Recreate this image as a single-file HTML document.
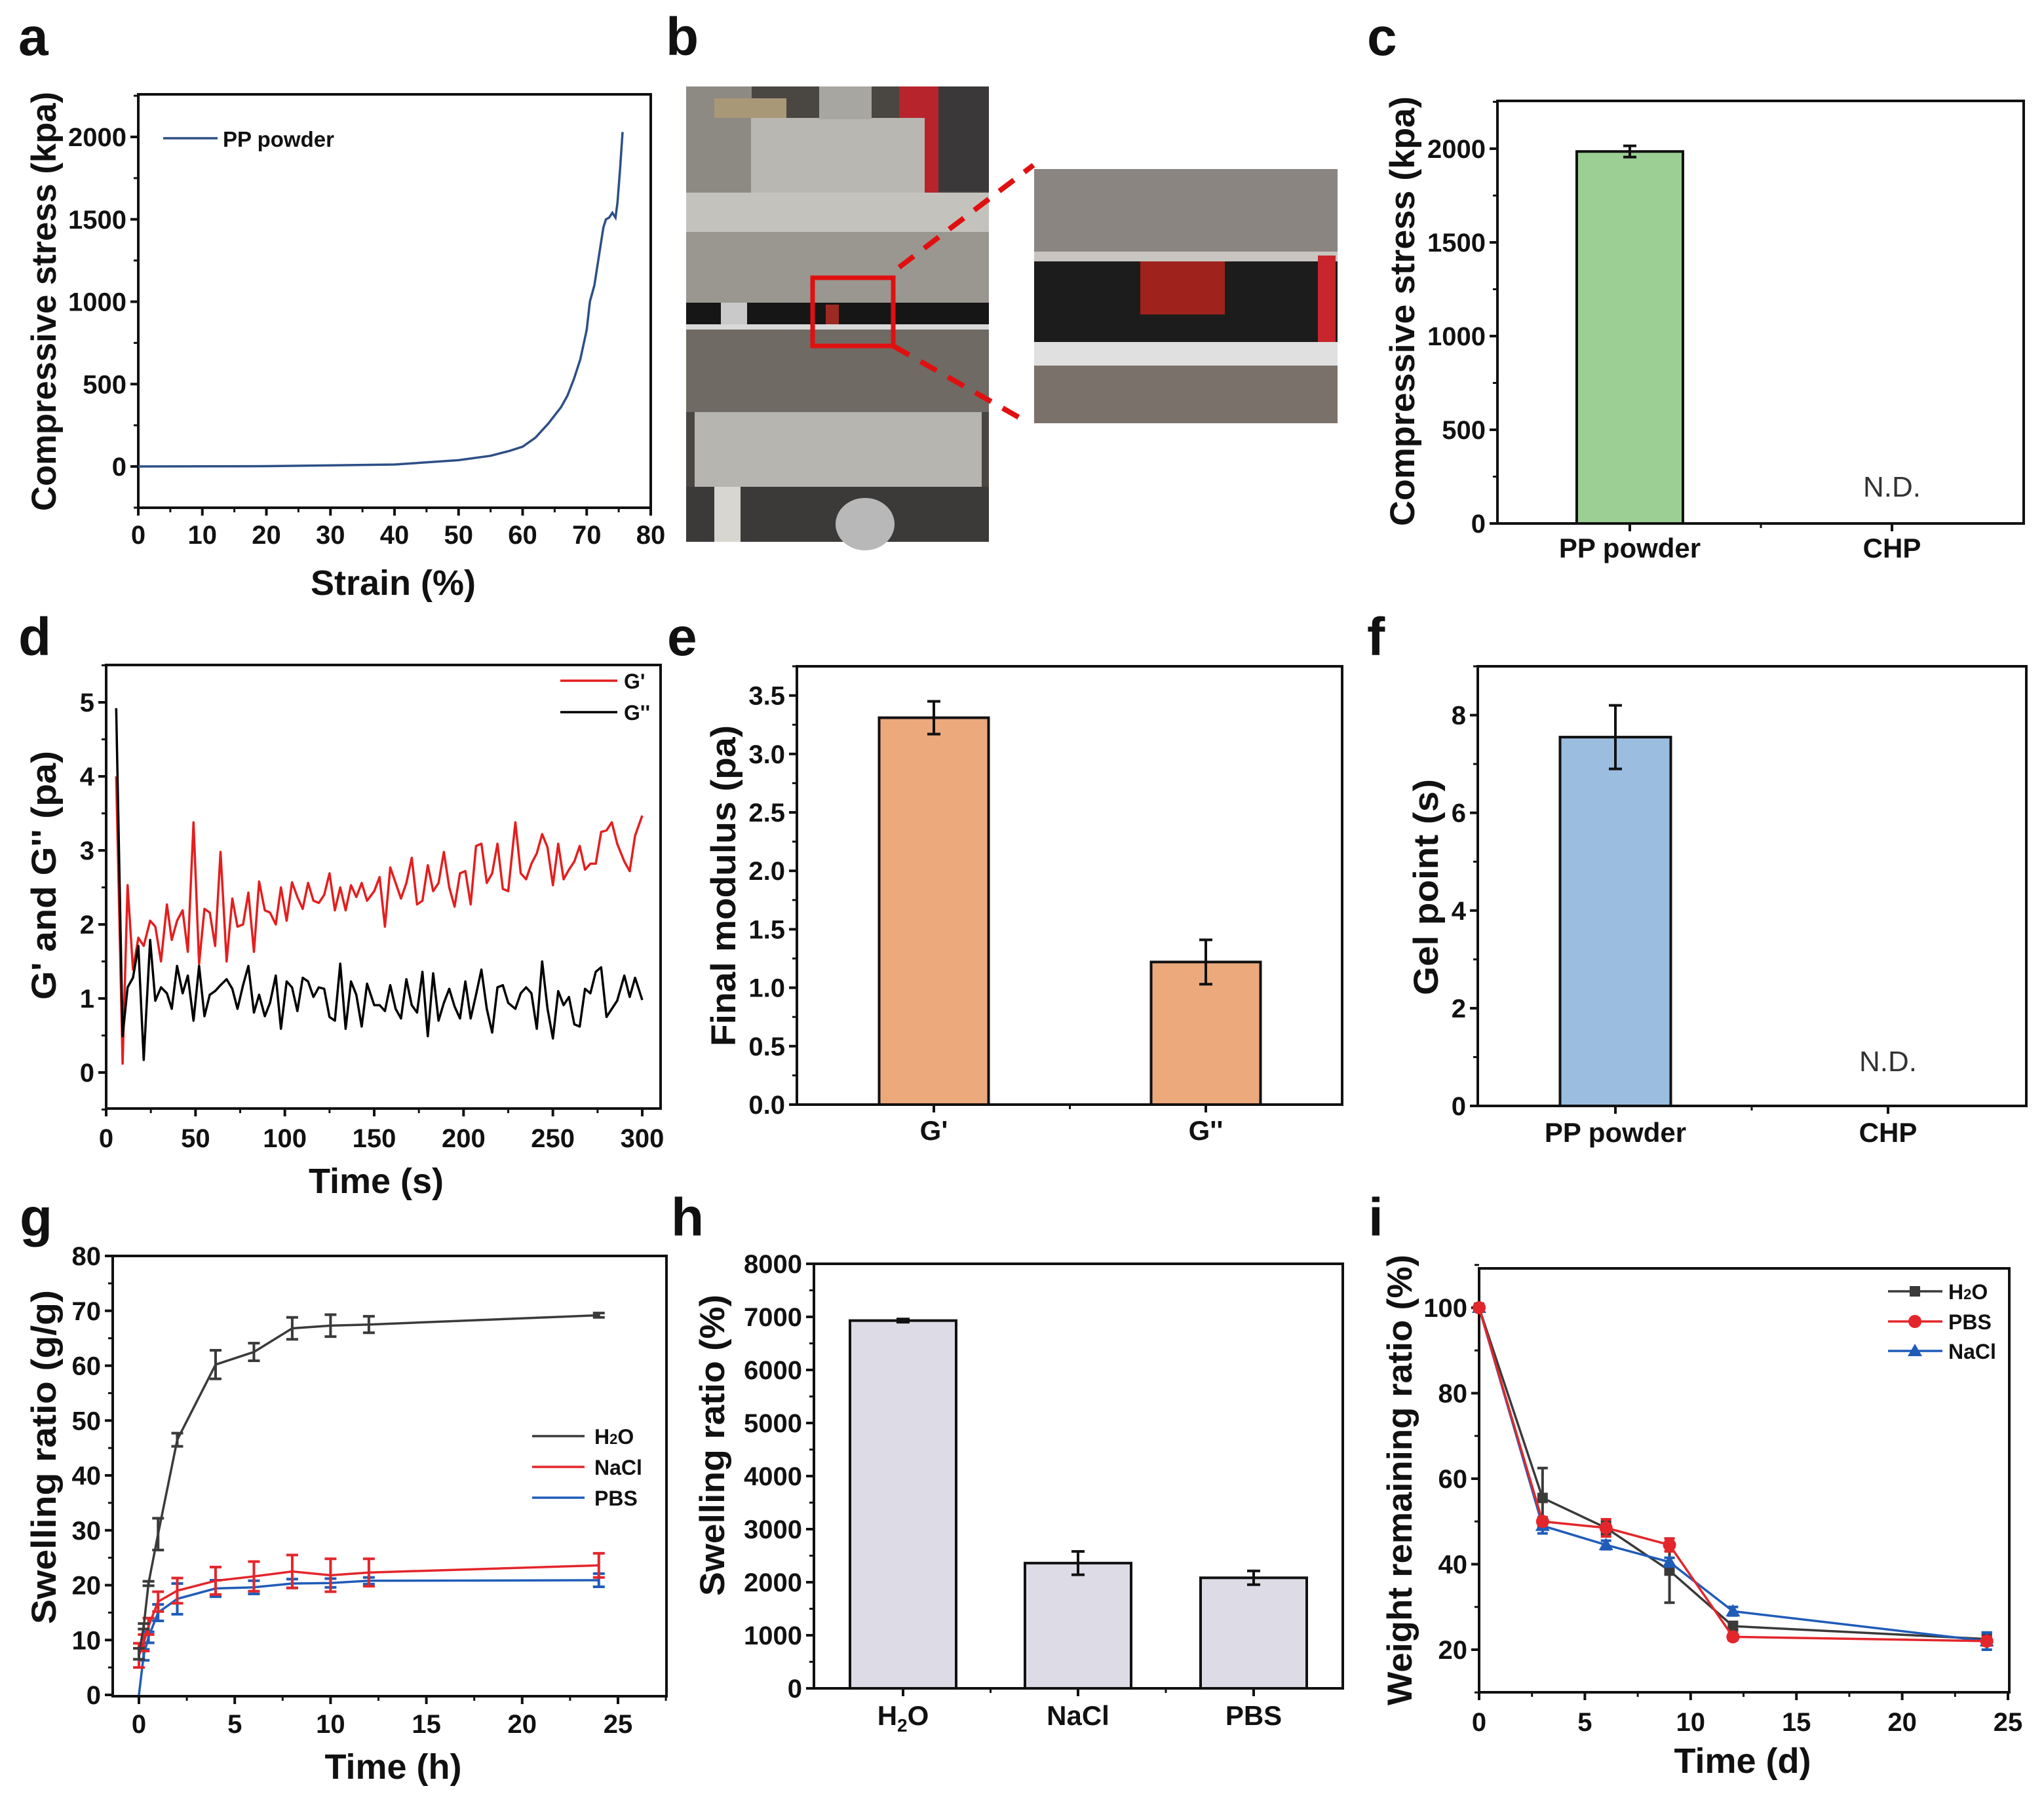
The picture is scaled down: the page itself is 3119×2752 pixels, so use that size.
<!DOCTYPE html>
<html><head><meta charset="utf-8"><title>Figure</title>
<style>
html,body{margin:0;padding:0;background:#fff;}
svg{display:block;font-family:"Liberation Sans",Arial,sans-serif;}
</style></head>
<body>
<svg id="fig" xmlns="http://www.w3.org/2000/svg" width="3119" height="2752" viewBox="0 0 3119 2752">
<rect x="0" y="0" width="3119" height="2752" fill="#fff"/>
<g font-weight="bold" font-size="82" fill="#111">
<text x="28" y="84">a</text>
<text x="1016" y="84">b</text>
<text x="2086" y="84">c</text>
<text x="28" y="1000">d</text>
<text x="1018" y="1000">e</text>
<text x="2086" y="1000">f</text>
<text x="30" y="1886">g</text>
<text x="1024" y="1886">h</text>
<text x="2088" y="1886">i</text>
</g>
<!-- panel b photo -->
<g>
<rect x="1047" y="132" width="462" height="695" fill="#4a4642"/>
<rect x="1047" y="132" width="100" height="170" fill="#8d8a84"/>
<rect x="1090" y="150" width="110" height="30" fill="#a89878"/>
<rect x="1372" y="132" width="60" height="695" fill="#b8242c"/>
<rect x="1432" y="132" width="77" height="160" fill="#3a3838"/>
<rect x="1146" y="180" width="265" height="114" fill="#b9b7b2"/>
<rect x="1250" y="132" width="80" height="50" fill="#a8a6a0"/>
<rect x="1047" y="294" width="462" height="60" fill="#c4c2bd"/>
<rect x="1047" y="354" width="462" height="108" fill="#9a9791"/>
<rect x="1047" y="462" width="462" height="39" fill="#161616"/>
<rect x="1100" y="462" width="40" height="39" fill="#c9c9c9"/>
<rect x="1260" y="465" width="20" height="30" fill="#9c2a22"/>
<rect x="1047" y="495" width="462" height="8" fill="#d9d9d9"/>
<rect x="1047" y="503" width="462" height="126" fill="#6f6a63"/>
<rect x="1060" y="629" width="438" height="114" fill="#b7b5b0"/>
<rect x="1047" y="743" width="462" height="84" fill="#3c3a38"/>
<rect x="1090" y="743" width="40" height="84" fill="#d8d6d0"/>
<ellipse cx="1320" cy="800" rx="45" ry="40" fill="#b8b8b8"/>
</g>
<g>
<rect x="1578" y="258" width="463" height="388" fill="#8a8580"/>
<rect x="1578" y="384" width="463" height="15" fill="#c8c4c0"/>
<rect x="1578" y="399" width="463" height="123" fill="#1c1c1c"/>
<rect x="1740" y="399" width="129" height="81" fill="#a0221c"/>
<rect x="2011" y="390" width="27" height="138" fill="#c8262c"/>
<rect x="1578" y="522" width="463" height="36" fill="#e0e0e0"/>
<rect x="1578" y="558" width="463" height="88" fill="#7a726a"/>
</g>
<rect x="1240" y="424" width="123" height="104" fill="none" stroke="#e01010" stroke-width="7"/>
<line x1="1372" y1="408" x2="1577" y2="252" stroke="#e01010" stroke-width="8" stroke-dasharray="28,20"/>
<line x1="1363" y1="528" x2="1567" y2="644" stroke="#e01010" stroke-width="8" stroke-dasharray="28,20"/>
</svg>
<script>
// ---------- DATA ----------
// panel a
const aStrain=[0,20,40,50,55,58,60,62,64,66,67,68,69,70,70.5,71.2,72,72.6,73,73.5,74,74.5,74.8,75.2,75.6];
const aStress=[0,2,12,38,65,95,120,175,260,360,430,530,650,830,1000,1100,1300,1450,1500,1510,1540,1510,1600,1800,2030];
const aXTicks=[0,10,20,30,40,50,60,70,80];
const aYTicks=[0,500,1000,1500,2000];
// panel c
const cCats=["PP powder","CHP"];
const cVals=[1985,null];
const cErr=[30,0];
const cYTicks=[0,500,1000,1500,2000];
// panel d
const dTime=[5.6,9.2,12,15,18,21,24.6,27.5,30.7,34,36.7,39.7,42.8,45.7,48.9,52,55,58,61,64,67.4,70.6,73.5,76.6,79.6,82.7,85.6,88.8,91.7,94.9,97.8,101,104,107,110,113,116,119,122,125,128,131,134,137,140,143,146,150,153,156,159,162,165,168,171,174,177,180,183,186,189,192,195,198,201,204,207,210,213,216,219,222,225,229,232,235,238,241,244,247,250,253,256,259,262,265,268,271,274,277,280,283,286,290,293,296,300];
const dGp=[4.0,0.12,2.53,1.39,1.82,1.71,2.05,1.97,1.5,2.27,1.79,2.05,2.19,1.63,3.38,1.47,2.21,2.16,1.71,2.98,1.5,2.35,1.97,2.0,2.43,1.63,2.58,2.19,2.16,2.0,2.5,2.05,2.57,2.37,2.21,2.56,2.32,2.29,2.4,2.69,2.19,2.5,2.19,2.53,2.37,2.56,2.32,2.45,2.64,1.97,2.77,2.56,2.35,2.56,2.9,2.27,2.32,2.8,2.45,2.56,2.98,2.5,2.24,2.69,2.72,2.27,3.06,3.09,2.56,2.69,3.09,2.48,2.45,3.38,2.69,2.61,2.82,2.96,3.22,3.04,2.53,3.09,2.61,2.74,2.85,3.06,2.74,2.82,2.82,3.25,3.27,3.38,3.09,2.85,2.72,3.2,3.47];
const dGpp=[4.92,0.49,1.15,1.28,1.71,0.17,1.79,0.97,1.15,1.07,0.86,1.44,1.07,1.31,0.7,1.44,0.76,1.05,1.1,1.18,1.26,1.13,0.86,1.18,1.44,0.81,1.05,0.76,0.94,1.31,0.59,1.23,1.15,0.83,1.28,1.23,1.02,1.15,1.13,0.75,0.7,1.47,0.59,1.23,1.05,0.62,1.2,0.91,0.91,0.83,1.18,0.86,0.73,1.26,0.91,0.81,1.36,0.49,1.34,0.7,0.94,1.13,0.89,0.73,1.23,0.73,1.05,1.39,0.86,0.54,1.15,1.18,0.94,0.86,1.07,1.15,1.07,0.59,1.5,0.86,0.46,1.1,0.91,1.02,0.65,0.62,1.13,1.07,1.36,1.42,0.75,0.86,0.97,1.31,1.02,1.28,0.98];
const dXTicks=[0,50,100,150,200,250,300];
const dYTicks=[0,1,2,3,4,5];
// panel e
const eCats=["G'","G''"];
const eVals=[3.31,1.22];
const eErr=[0.14,0.19];
const eYTicks=[0,0.5,1,1.5,2,2.5,3,3.5];
// panel f
const fCats=["PP powder","CHP"];
const fVals=[7.55,null];
const fErr=[0.65,0];
const fYTicks=[0,2,4,6,8];
// panel g
const gTime=[0,0.25,0.5,1,2,4,6,8,10,12,24];
const gH2O=[7.5,12.5,20.3,29.3,46.5,60.2,62.5,66.8,67.3,67.5,69.2];
const gH2OErr=[1,0.5,0.4,2.9,1.2,2.6,1.6,2.0,2.0,1.5,0.4];
const gNaCl=[7.2,9.5,12.5,17,19,20.8,21.6,22.5,21.8,22.3,23.6];
const gNaClErr=[2.2,1.5,1.5,1.8,2.3,2.5,2.7,3,3,2.5,2.2];
const gPBS=[0,7.3,10.5,15,17.5,19.4,19.6,20.3,20.4,20.8,20.9];
const gPBSErr=[0,1,1,1.5,2.8,1.5,1.2,0.8,0.8,0.6,1.2];
const gXTicks=[0,5,10,15,20,25];
const gYTicks=[0,10,20,30,40,50,60,70,80];
// panel h
const hCats=["H2O","NaCl","PBS"];
const hVals=[6930,2360,2083];
const hErr=[30,220,130];
const hYTicks=[0,1000,2000,3000,4000,5000,6000,7000,8000];
// panel i
const iTime=[0,3,6,9,12,24];
const iH2O=[100,55.5,48.5,38.5,25.5,22.5];
const iH2OErr=[0,7,1.5,7.5,1,1.5];
const iPBS=[100,50,48.5,44.5,23,22];
const iPBSErr=[0,1,2,1.5,0.8,1];
const iNaCl=[100,49,44.5,40.5,29,22];
const iNaClErr=[0,1.8,1,1,1,2];
const iXTicks=[0,5,10,15,20,25];
const iYTicks=[20,40,60,80,100];

// ---------- HELPERS ----------
const NS='http://www.w3.org/2000/svg';
const svg=document.getElementById('fig');
function mk(tag,attrs,parent){const e=document.createElementNS(NS,tag);for(const k in attrs)e.setAttribute(k,attrs[k]);(parent||svg).appendChild(e);return e;}
function lin(d0,d1,r0,r1){return v=>r0+(v-d0)*(r1-r0)/(d1-d0);}
function txt(str,x,y,size,anchor,parent,weight){const t=mk('text',{x:x,y:y,'font-size':size,'text-anchor':anchor||'middle','font-weight':weight||'bold',fill:'#111'},parent);t.textContent=str;return t;}

function frame(g,B){
  const r=mk('rect',{x:B.l,y:B.t,width:B.r-B.l,height:B.b-B.t,fill:'none',stroke:'#111','stroke-width':4},g);
  
  
}
function yAxis(g,B,ys,ticks,minorStep,ymin,ymax,fmt){
  for(const v of ticks){
    const y=ys(v);
    const l=mk('line',{x1:B.l-12,x2:B.l,y1:y,y2:y,stroke:'#111','stroke-width':4},g);
    
    
    const t=txt(fmt?fmt(v):String(v),B.l-18,y+14,40,'end',g);
    
    
  }
  if(minorStep){
    for(let v=Math.ceil(ymin/minorStep)*minorStep;v<=ymax+1e-9;v+=minorStep){
      const y=ys(v);
      const l=mk('line',{x1:B.l-7,x2:B.l,y1:y,y2:y,stroke:'#111','stroke-width':3},g);
      
      
    }
  }
}
function xAxis(g,B,xs,ticks,minorStep,xmin,xmax,baseline){
  for(const v of ticks){
    const x=xs(v);
    const l=mk('line',{x1:x,x2:x,y1:B.b,y2:B.b+12,stroke:'#111','stroke-width':4},g);
    
    
    const t=txt(String(v),x,baseline,40,'middle',g);
    
    
  }
  if(minorStep){
    for(let v=Math.ceil(xmin/minorStep)*minorStep;v<=xmax+1e-9;v+=minorStep){
      const x=xs(v);
      const l=mk('line',{x1:x,x2:x,y1:B.b,y2:B.b+7,stroke:'#111','stroke-width':3},g);
      
      
    }
  }
}
function yTitle(g,str,cx,cy,size,len){
  const t=mk('text',{x:0,y:0,'font-size':size,'text-anchor':'middle','font-weight':'bold',fill:'#111',transform:'translate('+(cx+size*0.36)+','+cy+') rotate(-90)'},g);
  if(len){t.setAttribute('textLength',len);t.setAttribute('lengthAdjust','spacingAndGlyphs');}
  t.textContent=str;return t;
}
function pathFrom(xsArr,ysArr,xs,ys){return xsArr.map((v,i)=>(i?'L':'M')+xs(v).toFixed(1)+','+ys(ysArr[i]).toFixed(1)).join(' ');}
function errBar(g,x,y1,y2,w,color){
  const e=mk('path',{d:'M'+x+','+y1+' L'+x+','+y2+' M'+(x-w)+','+y1+' L'+(x+w)+','+y1+' M'+(x-w)+','+y2+' L'+(x+w)+','+y2,stroke:color,'stroke-width':4,fill:'none'},g);
  
  
}

// ---------- PANEL A ----------
(function(){
  const g=mk('g',{});
  
  
  const B={l:211,r:993,t:144,b:775};
  const xs=lin(0,80,211,993), ys=lin(0,2000,712,209);
  frame(g,B);
  yAxis(g,B,ys,aYTicks,250,-250,2250);
  xAxis(g,B,xs,aXTicks,5,0,80,830);
  const p=mk('path',{d:pathFrom(aStrain,aStress,xs,ys),fill:'none',stroke:'#2d4f86','stroke-width':3.5},g);
  
  
  const ll=mk('line',{x1:249,x2:332,y1:211,y2:211,stroke:'#2d4f86','stroke-width':3.5},g);
  
  
  const lt=txt('PP powder',340,224,33,'start',g);
  
  
  const xt=txt('Strain (%)',600,908,54,'middle',g);
  
  
  const yt=yTitle(g,'Compressive stress (kpa)',66,460,53,640);
  
  
})();

// ---------- BAR PANEL HELPER ----------
function barPanel(name,B,ymin,ymax,ticks,minor,cats,vals,errs,centers,barW,fill,labelBase,fmt){
  const g=mk('g',{});
  
  
  const ys=lin(ymin,ymax,B.b,B.t);
  frame(g,B);
  yAxis(g,B,ys,ticks,minor,ymin,ymax,fmt);
  cats.forEach((c,i)=>{
    const x=centers[i];
    const tk=mk('line',{x1:x,x2:x,y1:B.b,y2:B.b+12,stroke:'#111','stroke-width':4},g);
    
    
    if(vals[i]!=null){
      const r=mk('rect',{x:x-barW/2,y:ys(vals[i]),width:barW,height:ys(0)-ys(vals[i]),fill:fill,stroke:'#111','stroke-width':4},g);
      
      
      errBar(g,x,ys(vals[i]+errs[i]),ys(vals[i]-errs[i]),10,'#111');
    }
  });
  for(let i=0;i<centers.length-1;i++){
    const x=(centers[i]+centers[i+1])/2;
    const m=mk('line',{x1:x,x2:x,y1:B.b,y2:B.b+7,stroke:'#111','stroke-width':3},g);
    
    
  }
  return {g,ys};
}
function catLabel(g,str,x,y){
  let t;
  if(str==='H2O'){
    t=mk('text',{x:x,y:y,'font-size':42,'text-anchor':'middle','font-weight':'bold',fill:'#111'},g);
    const a=mk('tspan',{},t);a.textContent='H';
    const b=mk('tspan',{'font-size':28,dy:10},t);b.textContent='2';
    const c=mk('tspan',{dy:-10},t);c.textContent='O';
  } else t=txt(str,x,y,42,'middle',g);
  
  
}

// ---------- PANEL C ----------
(function(){
  const B={l:2285,r:3088,t:154,b:799};
  const centers=[2487,2887];
  const P=barPanel('panel-c-compressive-bar',B,0,2255,cYTicks,250,cCats,cVals,cErr,centers,162,'#9bcf93',851);
  cCats.forEach((c,i)=>catLabel(P.g,c,centers[i],851));
  const nd=txt('N.D.',2887,758,44,'middle',P.g,'normal');
  nd.setAttribute('fill','#333');
  
  
  const yt=yTitle(P.g,'Compressive stress (kpa)',2139,475,53,656);
  
  
})();

// ---------- PANEL D ----------
(function(){
  const g=mk('g',{});
  
  
  const B={l:162,r:1008,t:1015,b:1692};
  const xs=lin(0,300,162,980), ys=lin(0,5,1637,1072);
  frame(g,B);
  yAxis(g,B,ys,dYTicks,0.5,-0.5,5.5);
  xAxis(g,B,xs,dXTicks,25,0,310,1751);
  const pr=mk('path',{d:pathFrom(dTime,dGp,xs,ys),fill:'none',stroke:'#e41e1e','stroke-width':3.5,'stroke-linejoin':'round'},g);
  
  
  const pb=mk('path',{d:pathFrom(dTime,dGpp,xs,ys),fill:'none',stroke:'#000','stroke-width':3.5,'stroke-linejoin':'round'},g);
  
  
  const l1=mk('line',{x1:855,x2:942,y1:1039,y2:1039,stroke:'#e41e1e','stroke-width':3.5},g);
  
  
  const t1=txt("G'",952,1051,32,'start',g);
  
  
  const l2=mk('line',{x1:855,x2:942,y1:1087,y2:1087,stroke:'#000','stroke-width':3.5},g);
  
  
  const t2=txt("G''",952,1099,32,'start',g);
  
  
  const xt=txt('Time (s)',574,1821,54,'middle',g);
  
  
  const yt=yTitle(g,"G' and G'' (pa)",66,1336,53,380);
  
  
})();

// ---------- PANEL E ----------
(function(){
  const B={l:1216,r:2048,t:1017,b:1686};
  const centers=[1425,1840];
  const P=barPanel('panel-e-final-modulus',B,0,3.75,eYTicks,0.25,eCats,eVals,eErr,centers,167,'#eba97c',1740,v=>v.toFixed(1));
  eCats.forEach((c,i)=>catLabel(P.g,c,centers[i],1740));
  const yt=yTitle(P.g,'Final modulus (pa)',1103,1352,53,490);
  
  
})();

// ---------- PANEL F ----------
(function(){
  const B={l:2255,r:3092,t:1017,b:1688};
  const centers=[2465,2881];
  const P=barPanel('panel-f-gel-point',B,0,9,fYTicks,1,fCats,fVals,fErr,centers,169,'#9abde0',1743);
  fCats.forEach((c,i)=>catLabel(P.g,c,centers[i],1743));
  const nd=txt('N.D.',2881,1635,44,'middle',P.g,'normal');
  nd.setAttribute('fill','#333');
  
  
  const yt=yTitle(P.g,'Gel point (s)',2175,1354,53,330);
  
  
})();

// ---------- PANEL G ----------
(function(){
  const g=mk('g',{});
  
  
  const B={l:172,r:1017,t:1917,b:2589};
  const xs=lin(0,25,212,943), ys=lin(0,80,2587,1917);
  frame(g,B);
  yAxis(g,B,ys,gYTicks,5,0,80);
  xAxis(g,B,xs,gXTicks,2.5,0,27.5,2645);
  const series=[['pbs',gPBS,gPBSErr,'#1f5cb8'],['nacl',gNaCl,gNaClErr,'#e3262b'],['h2o',gH2O,gH2OErr,'#3a3a3a']];
  series.forEach(s=>{
    const p=mk('path',{d:pathFrom(gTime,s[1],xs,ys),fill:'none',stroke:s[3],'stroke-width':3.5},g);
    
    
    gTime.forEach((t,i)=>{ if(s[2][i]>0) errBar(g,xs(t),ys(s[1][i]+s[2][i]),ys(s[1][i]-s[2][i]),9,s[3]); });
  });
  const leg=[['H2O','#3a3a3a',2192],['NaCl','#e3262b',2239],['PBS','#1f5cb8',2286]];
  leg.forEach(L=>{
    const l=mk('line',{x1:812,x2:892,y1:L[2],y2:L[2],stroke:L[1],'stroke-width':3.5},g);
    
    
    let t;
    if(L[0]==='H2O'){
      t=mk('text',{x:907,y:L[2]+12,'font-size':32,'font-weight':'bold',fill:'#111'},g);
      const a=mk('tspan',{},t);a.textContent='H';
      const b=mk('tspan',{'font-size':22},t);b.textContent='2';
      const c=mk('tspan',{},t);c.textContent='O';
    } else t=txt(L[0],907,L[2]+12,32,'start',g);
    
    
  });
  const xt=txt('Time (h)',600,2715,54,'middle',g);
  
  
  const yt=yTitle(g,'Swelling ratio (g/g)',66,2224,53,510);
  
  
})();

// ---------- PANEL H ----------
(function(){
  const B={l:1242,r:2049,t:1929,b:2577};
  const centers=[1378,1645,1913];
  const P=barPanel('panel-h-swelling-ratio',B,0,8000,hYTicks,500,hCats,hVals,hErr,centers,162,'#dcdbe6',2633);
  hCats.forEach((c,i)=>catLabel(P.g,c,centers[i],2633));
  const yt=yTitle(P.g,'Swelling ratio (%)',1086,2206,53,460);
  
  
})();

// ---------- PANEL I ----------
(function(){
  const g=mk('g',{});
  
  
  const B={l:2257,r:3066,t:1936,b:2583};
  const xs=lin(0,25,2257,3064), ys=lin(20,100,2518,1996);
  frame(g,B);
  yAxis(g,B,ys,iYTicks,10,10,110);
  xAxis(g,B,xs,iXTicks,2.5,0,25,2642);
  const series=[['h2o',iH2O,iH2OErr,'#3a3a3a','sq'],['nacl',iNaCl,iNaClErr,'#1f5cb8','tri'],['pbs',iPBS,iPBSErr,'#e3262b','circ']];
  function marker(type,x,y,color,parent){
    let m;
    if(type==='sq') m=mk('rect',{x:x-8,y:y-8,width:16,height:16,fill:color},parent);
    else if(type==='circ') m=mk('circle',{cx:x,cy:y,r:10,fill:color},parent);
    else m=mk('path',{d:'M'+x+','+(y-11)+' L'+(x+11)+','+(y+8)+' L'+(x-11)+','+(y+8)+' Z',fill:color},parent);
    return m;
  }
  series.forEach(s=>{
    const p=mk('path',{d:pathFrom(iTime,s[1],xs,ys),fill:'none',stroke:s[3],'stroke-width':3.5},g);
    
    
    iTime.forEach((t,i)=>{
      if(s[2][i]>0) errBar(g,xs(t),ys(s[1][i]+s[2][i]),ys(s[1][i]-s[2][i]),8,s[3]);
      const m=marker(s[4],xs(t),ys(s[1][i]),s[3],g);
      
      
    });
  });
  const leg=[['H2O','#3a3a3a',1971,'sq'],['PBS','#e3262b',2017,'circ'],['NaCl','#1f5cb8',2062,'tri']];
  leg.forEach(L=>{
    const l=mk('line',{x1:2881,x2:2964,y1:L[2],y2:L[2],stroke:L[1],'stroke-width':3.5},g);
    
    
    const m=marker(L[3],2922,L[2],L[1],g);
    
    
    let t;
    if(L[0]==='H2O'){
      t=mk('text',{x:2973,y:L[2]+12,'font-size':32,'font-weight':'bold',fill:'#111'},g);
      const a=mk('tspan',{},t);a.textContent='H';
      const b=mk('tspan',{'font-size':22},t);b.textContent='2';
      const c=mk('tspan',{},t);c.textContent='O';
    } else t=txt(L[0],2973,L[2]+12,32,'start',g);
    
    
  });
  const xt=txt('Time (d)',2659,2706,54,'middle',g);
  
  
  const yt=yTitle(g,'Weight remaining ratio (%)',2135,2259,53,688);
  
  
})();
</script>
</body></html>
